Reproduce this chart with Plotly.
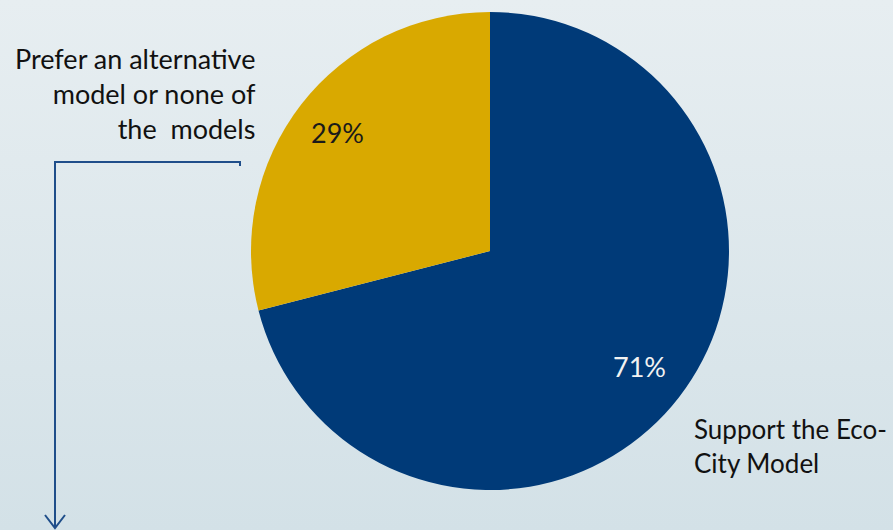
import math
import plotly.graph_objects as go

categories = ["Support the Eco-<br>City Model", "Prefer an alternative<br>model or none of<br>the  models"]
values = [71, 29]
colors = ["#003a78", "#d9a900"]
text_colors = ["#f2f2f2", "#1a1a1a"]

W, H = 893, 530

def px(x):
    return x / W

def py(y):
    return 1 - y / H

fig = go.Figure()

# subtle vertical background gradient
fig.add_trace(go.Scatter(
    x=[0, 1, 1, 0, 0], y=[0, 0, 1, 1, 0],
    mode="lines", line=dict(width=0), fill="toself",
    fillgradient=dict(type="vertical",
                      colorscale=[[0, "#d3e1e7"], [1, "#e7eef1"]]),
    hoverinfo="skip", showlegend=False,
))

# pie geometry
cx, cy, R = 490, 251, 239
fig.add_trace(go.Pie(
    values=values,
    labels=["eco", "alt"],
    sort=False,
    direction="clockwise",
    rotation=0,
    marker=dict(colors=colors, line=dict(width=0)),
    textinfo="none",
    domain=dict(x=[px(cx - R), px(cx + R)], y=[py(cy + R), py(cy - R)]),
    showlegend=False,
    hoverinfo="label+percent",
))

# percentage labels at slice mid-angles (clockwise from 12 o'clock)
total = sum(values)
start = 0.0
radial = [0.79, 0.81]
for i, v in enumerate(values):
    frac = v / total
    mid = (start + frac / 2) * 2 * math.pi
    start += frac
    dx = math.sin(mid) * radial[i] * R
    dy = -math.cos(mid) * radial[i] * R
    fig.add_annotation(
        xref="paper", yref="paper", x=px(cx + dx), y=py(cy + dy),
        text=f"{round(frac * 100)}%", showarrow=False,
        xanchor="center", yanchor="middle",
        font=dict(family="Lato", size=27, color=text_colors[i]),
    )

fig.add_annotation(
    xref="paper", yref="paper", x=px(258), y=py(40),
    xanchor="right", yanchor="top", align="right",
    text=categories[1], showarrow=False,
    font=dict(family="Lato", size=27, color="#111111"),
)
fig.add_annotation(
    xref="paper", yref="paper", x=px(692), y=py(411),
    xanchor="left", yanchor="top", align="left",
    text=categories[0], showarrow=False,
    font=dict(family="Lato", size=26, color="#111111"),
)

line_col = "#1f4e8a"
path = f"M {px(240)},{py(166)} L {px(240)},{py(162)} L {px(55)},{py(162)} L {px(55)},{py(528)}"
fig.add_shape(type="path", xref="paper", yref="paper", path=path,
              line=dict(color=line_col, width=2))
head = f"M {px(45)},{py(515)} L {px(55)},{py(528)} L {px(65)},{py(515)}"
fig.add_shape(type="path", xref="paper", yref="paper", path=head,
              line=dict(color=line_col, width=2))

fig.update_layout(
    width=W, height=H,
    margin=dict(l=0, r=0, t=0, b=0),
    paper_bgcolor="#dde8ed",
    plot_bgcolor="#dde8ed",
    xaxis=dict(range=[0, 1], visible=False, fixedrange=True),
    yaxis=dict(range=[0, 1], visible=False, fixedrange=True),
)

fig.write_html("out.html", config={"displayModeBar": False},
               post_script="document.body.style.margin='0';")
